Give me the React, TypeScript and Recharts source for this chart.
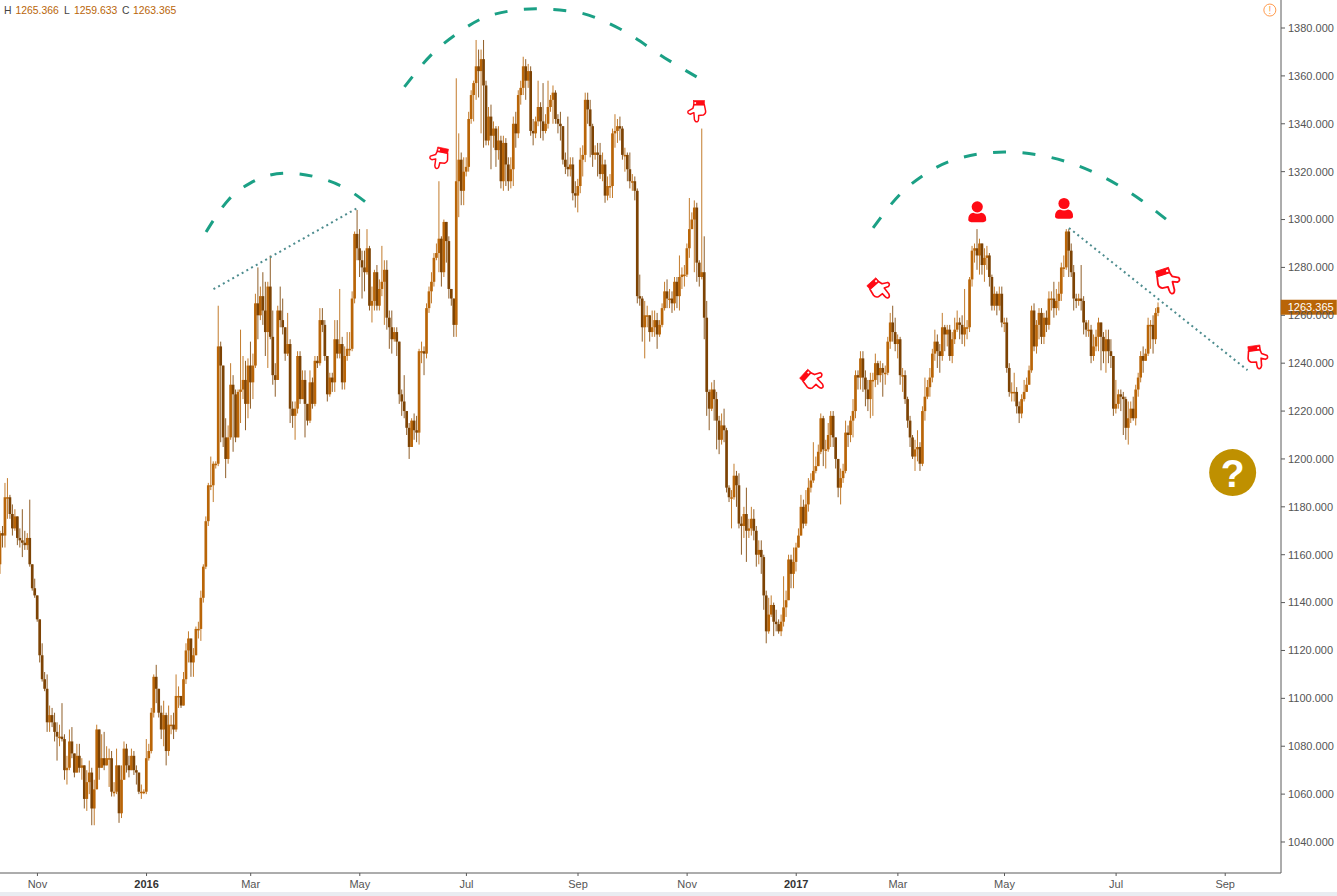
import React from "react";
import { ComposedChart, Bar, Line, XAxis, YAxis, ReferenceDot } from "recharts";

const firstOpen = 1156;
const closes = [
  1169,1168,1184,1184,1177,1171,1176,1167,1166,1165,
  1164,1167,1156,1146,1143,1133,1118,1108,1104,1090,
  1093,1090,1086,1084,1084,1083,1070,1071,1082,1077,
  1069,1076,1071,1072,1058,1065,1069,1054,1062,1087,
  1071,1075,1072,1075,1075,1061,1061,1072,1052,1066,
  1079,1072,1070,1076,1070,1069,1061,1061,1061,1075,
  1078,1094,1109,1104,1094,1087,1093,1078,1089,1089,
  1087,1101,1101,1097,1108,1120,1125,1115,1118,1129,
  1129,1142,1155,1174,1189,1189,1198,1198,1247,1239,
  1209,1200,1209,1231,1227,1209,1228,1229,1233,1223,
  1239,1232,1239,1265,1260,1268,1262,1253,1272,1251,
  1235,1233,1262,1258,1255,1244,1248,1221,1218,1221,
  1243,1225,1233,1223,1216,1232,1223,1241,1240,1258,
  1256,1243,1227,1234,1232,1250,1244,1248,1232,1243,
  1246,1246,1267,1294,1288,1283,1280,1278,1288,1264,
  1266,1278,1264,1271,1274,1279,1259,1255,1250,1253,
  1249,1227,1224,1220,1213,1205,1216,1212,1211,1245,
  1245,1244,1263,1270,1274,1284,1286,1292,1278,1299,
  1291,1271,1267,1256,1316,1325,1312,1320,1322,1342,
  1352,1357,1364,1362,1367,1356,1333,1343,1335,1338,
  1329,1333,1316,1332,1323,1316,1321,1340,1336,1352,
  1355,1364,1358,1362,1337,1336,1341,1347,1341,1337,
  1340,1347,1350,1353,1342,1340,1339,1325,1322,1321,
  1323,1311,1310,1314,1325,1327,1350,1346,1339,1327,
  1328,1327,1319,1323,1310,1314,1314,1336,1337,1339,
  1338,1327,1327,1321,1316,1316,1312,1268,1267,1255,
  1260,1260,1253,1255,1258,1252,1256,1263,1270,1267,
  1267,1265,1274,1268,1276,1277,1277,1288,1296,1300,
  1305,1282,1276,1278,1259,1228,1221,1229,1225,1216,
  1208,1214,1212,1188,1184,1184,1193,1189,1173,1172,
  1177,1170,1171,1175,1170,1160,1162,1159,1143,1128,
  1135,1139,1132,1131,1128,1132,1138,1141,1158,1152,
  1157,1163,1168,1180,1173,1181,1188,1191,1195,1197,
  1203,1217,1204,1204,1210,1218,1209,1200,1188,1192,
  1195,1211,1210,1216,1220,1235,1234,1242,1234,1229,
  1225,1233,1233,1240,1235,1238,1236,1236,1249,1257,
  1253,1248,1250,1235,1235,1225,1216,1209,1201,1204,
  1205,1198,1220,1226,1230,1234,1244,1249,1245,1243,
  1255,1252,1254,1243,1250,1254,1257,1256,1252,1255,
  1255,1275,1287,1288,1285,1290,1281,1284,1285,1276,
  1264,1269,1264,1269,1257,1257,1238,1228,1228,1228,
  1222,1219,1225,1228,1231,1237,1262,1247,1256,1261,
  1251,1259,1256,1267,1267,1263,1266,1269,1280,1280,
  1295,1287,1278,1267,1266,1267,1266,1257,1254,1254,
  1243,1247,1251,1257,1251,1245,1250,1245,1243,1221,
  1223,1227,1226,1225,1213,1217,1221,1217,1229,1234,
  1243,1241,1244,1256,1256,1250,1261,1263.365,
];
const highs = [
  1170,1172,1190,1192,1185,1181,1179,1172,1171,1179,
  1170,1169,1183,1156,1150,1138,1133,1123,1111,1110,
  1097,1096,1094,1090,1089,1098,1085,1076,1087,1088,
  1076,1081,1081,1075,1072,1070,1074,1071,1066,1089,
  1078,1085,1086,1080,1079,1078,1065,1079,1072,1072,
  1082,1081,1076,1079,1078,1072,1065,1064,1062,1083,
  1081,1096,1110,1114,1104,1097,1099,1094,1097,1093,
  1094,1110,1105,1101,1111,1123,1128,1125,1121,1130,
  1132,1145,1156,1176,1190,1201,1199,1199,1264,1249,
  1237,1217,1214,1240,1235,1229,1229,1254,1243,1241,
  1242,1249,1244,1269,1280,1272,1278,1274,1274,1285,
  1262,1240,1264,1272,1267,1249,1261,1250,1224,1224,
  1245,1245,1237,1237,1222,1237,1234,1243,1243,1263,
  1263,1258,1243,1236,1236,1258,1258,1271,1251,1247,
  1253,1253,1270,1295,1304,1296,1287,1287,1296,1289,
  1272,1279,1281,1275,1289,1283,1283,1262,1262,1255,
  1255,1249,1229,1235,1217,1215,1217,1219,1218,1246,
  1249,1247,1265,1272,1278,1286,1290,1316,1293,1300,
  1298,1293,1270,1262,1359,1336,1328,1326,1326,1345,
  1354,1358,1375,1371,1371,1375,1358,1347,1348,1341,
  1339,1339,1335,1335,1334,1326,1326,1343,1345,1354,
  1358,1368,1367,1365,1364,1342,1343,1358,1349,1357,
  1344,1358,1352,1356,1354,1344,1345,1339,1328,1343,
  1326,1326,1316,1317,1330,1331,1353,1353,1350,1340,
  1331,1332,1332,1328,1325,1318,1319,1338,1344,1342,
  1343,1339,1330,1328,1328,1319,1318,1313,1277,1268,
  1266,1264,1260,1262,1262,1261,1258,1265,1274,1275,
  1271,1270,1276,1276,1285,1280,1281,1290,1309,1303,
  1308,1307,1283,1338,1293,1266,1229,1232,1233,1228,
  1218,1219,1221,1213,1189,1187,1198,1195,1194,1176,
  1180,1188,1175,1180,1179,1172,1166,1166,1160,1145,
  1142,1143,1140,1137,1133,1135,1151,1145,1160,1160,
  1163,1165,1171,1185,1183,1187,1192,1194,1207,1201,
  1206,1219,1218,1208,1215,1220,1220,1209,1195,1196,
  1198,1216,1214,1218,1225,1237,1237,1245,1245,1237,
  1233,1236,1236,1244,1241,1241,1240,1239,1251,1261,
  1264,1259,1252,1251,1238,1237,1226,1218,1210,1208,
  1212,1207,1222,1234,1233,1238,1246,1254,1252,1248,
  1261,1256,1256,1256,1253,1259,1262,1259,1260,1271,
  1258,1276,1289,1290,1296,1292,1290,1288,1289,1286,
  1277,1272,1270,1272,1272,1259,1259,1240,1232,1236,
  1230,1224,1227,1233,1234,1239,1264,1265,1258,1263,
  1263,1261,1262,1270,1270,1274,1271,1274,1282,1285,
  1296,1296,1290,1281,1269,1269,1281,1268,1258,1258,
  1256,1252,1254,1259,1257,1253,1254,1254,1250,1243,
  1233,1229,1229,1228,1226,1224,1224,1226,1231,1236,
  1245,1247,1246,1259,1258,1260,1263,1265.366,
];
const lows = [
  1152,1163,1163,1175,1175,1168,1170,1164,1163,1159,
  1162,1162,1155,1145,1142,1132,1115,1107,1103,1086,
  1086,1088,1082,1074,1080,1082,1066,1064,1070,1075,
  1067,1069,1069,1066,1054,1053,1060,1047,1047,1062,
  1066,1071,1070,1073,1063,1059,1059,1060,1048,1050,
  1072,1069,1067,1070,1068,1064,1060,1058,1060,1060,
  1074,1077,1092,1098,1092,1083,1080,1072,1076,1085,
  1083,1086,1096,1096,1097,1106,1115,1109,1109,1118,
  1125,1124,1140,1154,1172,1187,1182,1196,1197,1207,
  1205,1192,1198,1208,1203,1207,1209,1215,1225,1212,
  1217,1221,1225,1238,1250,1258,1256,1243,1238,1250,
  1231,1226,1233,1255,1252,1241,1243,1215,1213,1208,
  1219,1223,1225,1209,1214,1215,1221,1222,1238,1239,
  1253,1241,1224,1226,1228,1228,1242,1242,1229,1229,
  1241,1243,1245,1265,1283,1276,1267,1270,1277,1262,
  1257,1262,1262,1262,1268,1256,1254,1246,1244,1249,
  1243,1223,1218,1217,1210,1200,1206,1208,1207,1206,
  1240,1235,1242,1261,1265,1272,1283,1278,1272,1276,
  1282,1267,1264,1251,1251,1301,1306,1306,1318,1320,
  1340,1341,1350,1351,1336,1330,1331,1331,1321,1330,
  1322,1325,1313,1312,1314,1312,1313,1314,1330,1334,
  1348,1352,1350,1355,1335,1331,1334,1339,1334,1333,
  1336,1338,1345,1340,1340,1336,1333,1323,1319,1318,
  1318,1308,1305,1303,1311,1318,1324,1340,1326,1322,
  1325,1318,1317,1316,1307,1308,1309,1309,1330,1332,
  1333,1325,1320,1316,1313,1312,1308,1265,1264,1249,
  1242,1255,1249,1251,1251,1246,1251,1255,1262,1263,
  1263,1261,1262,1263,1262,1271,1272,1276,1284,1296,
  1278,1274,1272,1275,1250,1218,1212,1220,1216,1204,
  1202,1206,1207,1186,1182,1171,1183,1180,1171,1160,
  1167,1157,1167,1168,1166,1155,1156,1152,1137,1123,
  1127,1134,1126,1128,1127,1126,1130,1134,1147,1146,
  1146,1153,1163,1168,1171,1172,1178,1186,1190,1194,
  1198,1202,1197,1196,1203,1205,1205,1196,1184,1181,
  1190,1194,1205,1207,1209,1217,1229,1229,1228,1222,
  1220,1217,1218,1230,1231,1232,1226,1231,1235,1246,
  1249,1245,1242,1231,1228,1223,1213,1205,1200,1195,
  1199,1195,1197,1216,1225,1226,1232,1241,1238,1236,
  1241,1245,1247,1241,1240,1248,1253,1250,1248,1247,
  1250,1253,1272,1282,1279,1277,1277,1274,1279,1272,
  1262,1262,1260,1262,1255,1253,1236,1226,1224,1224,
  1219,1215,1217,1224,1228,1234,1236,1245,1244,1250,
  1248,1248,1253,1254,1262,1259,1260,1262,1266,1276,
  1279,1276,1276,1262,1263,1264,1262,1252,1251,1251,
  1240,1241,1245,1245,1237,1240,1236,1240,1238,1218,
  1219,1221,1220,1210,1208,1206,1215,1216,1214,1226,
  1232,1236,1241,1243,1246,1244,1248,1259.633,
];

const totalSlots = 517;
const priceTicks = [1040,1060,1080,1100,1120,1140,1160,1180,1200,1220,1240,1260,1280,1300,1320,1340,1360,1380];
const timeTickSlots = [15,59,101,145,188,233,277,321,362,405,450,494];
const timeTickLabels = ["Nov","2016","Mar","May","Jul","Sep","Nov","2017","Mar","May","Jul","Sep"];
const yearLabels = ["2016","2017"];

const arc1Slots = [83,92,101,115,129,139,149];
const arc1Values = [1294.8,1308.2,1315.3,1319.4,1317.3,1313.2,1306];
const arc2Slots = [163,174,184,198,216,232,250,268,283];
const arc2Values = [1355.4,1369,1377.5,1385.4,1388,1386.7,1379.6,1367.5,1358.3];
const arc3Slots = [352,363,373,387,405,423,444,460,471];
const arc3Values = [1296.5,1310.7,1319,1325.7,1328.2,1326.1,1318.2,1308.2,1299.4];
const dot1Slots = [86,144];
const dot1Values = [1270.9,1304.8];
const dot2Slots = [431,503];
const dot2Values = [1296.5,1237.1];

const handMarks = [
  { slot: 177, price: 1325.7, angle: 12, mirror: false, size: 1.05 },
  { slot: 281, price: 1345.3, angle: 0, mirror: false, size: 1.05 },
  { slot: 328, price: 1233, angle: -48, mirror: true, size: 1.15 },
  { slot: 355, price: 1271, angle: -42, mirror: true, size: 1.15 },
  { slot: 471, price: 1274.3, angle: -18, mirror: true, size: 1.3 },
  { slot: 507, price: 1242.6, angle: -8, mirror: true, size: 1.15 },
];
const userMarks = [
  { slot: 394, price: 1303 },
  { slot: 429, price: 1304.4 },
];
const lastPrice = 1263.365;

const UP = "#b96508";
const DOWN = "#7d4304";
const RED = "#ff0a14";
const GREEN = "#1ba085";
const DOTTED = "#4d8c8e";
const AXIS = "#5a5a5a";
const TEXT = "#555";
const FONT = "'Liberation Sans', Arial, sans-serif";

const rows: any[] = [];
for (let i = 0; i < totalSlots; i++) {
  const row: any = { slot: i };
  if (i < closes.length) {
    const open = i === 0 ? firstOpen : closes[i - 1];
    const close = closes[i];
    const high = Math.max(highs[i], open, close);
    const low = Math.min(lows[i], open, close);
    row.open = open; row.close = close; row.high = high; row.low = low;
    row.range = [low, high];
  }
  rows.push(row);
}
const put = (key: string, slots: number[], values: number[]) =>
  slots.forEach((s, k) => { rows[s][key] = values[k]; });
put("arc1", arc1Slots, arc1Values);
put("arc2", arc2Slots, arc2Values);
put("arc3", arc3Slots, arc3Values);
put("dot1", dot1Slots, dot1Values);
put("dot2", dot2Slots, dot2Values);

const Candle = (p: any) => {
  const { x, y, height, payload: r } = p;
  if (!r || r.close == null || !(height > 0)) return null;
  const k = height / (r.high - r.low);
  const yo = y + (r.high - r.open) * k;
  const yc = y + (r.high - r.close) * k;
  const up = r.close >= r.open;
  const c = up ? UP : DOWN;
  const top = Math.min(yo, yc);
  const h = Math.max(Math.abs(yo - yc), 1.5);
  return (
    <g>
      <rect x={x + 0.5} y={y} width={1} height={height} fill={c} opacity={0.85} />
      <rect x={x - 0.35} y={top} width={2.7} height={h} fill={c} />
    </g>
  );
};

const Hand = (m: any) => (p: any) => (
  <g transform={`translate(${p.cx},${p.cy}) rotate(${m.angle}) scale(${m.mirror ? -m.size : m.size},${m.size})`}>
    <path
      d="M-3,-6 L-4,-2.5 L-8.5,0 Q-9.5,2.5 -6.5,3 L-3,1.5 L-2.5,8 Q-1.5,11 0.5,10 Q1.5,9.5 1.5,7 L1.5,4.2 L6,3.8 Q8.5,2.5 8.2,0 L7,-6 Z"
      fill="#fff" stroke={RED} strokeWidth={1.4} strokeLinejoin="round"
    />
    <rect x={-3.5} y={-10} width={10.5} height={4} fill={RED} stroke={RED} strokeWidth={0.6} />
    <rect x={-2.5} y={-8.5} width={1.6} height={1.6} fill="#fff" />
  </g>
);

const User = (p: any) => (
  <g transform={`translate(${p.cx},${p.cy})`}>
    <circle cx={0} cy={-5.5} r={5.6} fill={RED} />
    <path d="M-9,8 Q-9.5,1.5 -4,0.5 Q0,2.5 4,0.5 Q9.5,1.5 9,8 Q8.5,9.8 6,9.8 L-6,9.8 Q-8.5,9.8 -9,8 Z" fill={RED} />
  </g>
);

const Question = (p: any) => (
  <g>
    <circle cx={p.cx} cy={p.cy} r={23.5} fill="#bf9000" />
    <text x={p.cx} y={p.cy + 14} textAnchor="middle" fontFamily={FONT} fontWeight={700} fontSize={39} fill="#fff">?</text>
  </g>
);

const Warn = (p: any) => (
  <g>
    <circle cx={p.cx} cy={p.cy} r={6} fill="#fff" stroke="#ff9a4d" strokeWidth={1} />
    <text x={p.cx} y={p.cy + 3.5} textAnchor="middle" fontFamily={FONT} fontSize={10} fill="#ff9a4d">!</text>
  </g>
);

const PriceTag = (p: any) => (
  <g>
    <rect x={p.cx + 1} y={p.cy - 7.5} width={56} height={15} fill={UP} />
    <text x={p.cx + 8} y={p.cy + 4} fontFamily={FONT} fontSize={11} fill="#fff">{lastPrice.toFixed(3)}</text>
  </g>
);

const TimeTick = (p: any) => {
  const label = timeTickLabels[timeTickSlots.indexOf(p.payload.value)];
  const year = yearLabels.includes(label);
  return (
    <text x={p.x} y={888} textAnchor="middle" fontFamily={FONT} fontSize={11}
      fontWeight={year ? 700 : 400} fill={year ? "#333" : TEXT}>{label}</text>
  );
};

const headStyle = (left: number, color: string): React.CSSProperties => ({
  position: "absolute", left, top: 4, fontFamily: FONT, fontSize: 10.4, lineHeight: "14px", color,
});

const dashProps = { dot: false, activeDot: false, connectNulls: true, isAnimationActive: false, legendType: "none" as const };

export default function App() {
  return (
    <div style={{ position: "absolute", left: 0, top: 0, width: 1337, height: 896, background: "#fff", overflow: "hidden" }}>
      <ComposedChart width={1337} height={892} data={rows} margin={{ top: 0, right: 0, bottom: 0, left: -1 }} barCategoryGap={0}>
        <XAxis dataKey="slot" type="category" ticks={timeTickSlots} interval={0} height={19}
          tick={TimeTick} tickSize={3} stroke={AXIS} tickLine={{ stroke: AXIS }} axisLine={{ stroke: AXIS }} />
        <YAxis orientation="right" width={56} domain={[1027.05, 1391.7]} ticks={priceTicks} interval={0}
          tickFormatter={(v: number) => v.toFixed(3)} tickSize={4} tickMargin={3}
          axisLine={{ stroke: AXIS }} tickLine={{ stroke: AXIS }}
          tick={{ fill: TEXT, fontFamily: FONT, fontSize: 11 }} />
        <Bar dataKey="range" barSize={2} shape={Candle} isAnimationActive={false} />
        <Line dataKey="arc1" type="monotone" stroke={GREEN} strokeWidth={3} strokeDasharray="13 16.5" {...dashProps} />
        <Line dataKey="arc2" type="monotone" stroke={GREEN} strokeWidth={3} strokeDasharray="13 16.5" {...dashProps} />
        <Line dataKey="arc3" type="monotone" stroke={GREEN} strokeWidth={3} strokeDasharray="13 16.5" {...dashProps} />
        <Line dataKey="dot1" type="linear" stroke={DOTTED} strokeWidth={2} strokeDasharray="2 3.4" {...dashProps} />
        <Line dataKey="dot2" type="linear" stroke={DOTTED} strokeWidth={2} strokeDasharray="2 3.4" {...dashProps} />
        {handMarks.map((m, i) => (
          <ReferenceDot key={"h" + i} x={m.slot} y={m.price} r={1} ifOverflow="visible" shape={Hand(m)} />
        ))}
        {userMarks.map((m, i) => (
          <ReferenceDot key={"u" + i} x={m.slot} y={m.price} r={1} ifOverflow="visible" shape={User} />
        ))}
        <ReferenceDot x={497} y={1194.3} r={1} ifOverflow="visible" shape={Question} />
        <ReferenceDot x={512} y={1387.5} r={1} ifOverflow="visible" shape={Warn} />
        <ReferenceDot x={516} y={lastPrice} r={1} ifOverflow="visible" shape={PriceTag} />
      </ComposedChart>
      <span style={headStyle(4, "#444")}>H</span>
      <span style={headStyle(15.5, UP)}>1265.366</span>
      <span style={headStyle(64, "#444")}>L</span>
      <span style={headStyle(74, UP)}>1259.633</span>
      <span style={headStyle(122, "#444")}>C</span>
      <span style={headStyle(133, UP)}>1263.365</span>
      <div style={{ position: "absolute", left: 0, top: 892, width: 1337, height: 4, background: "#e9ecf1" }} />
    </div>
  );
}
